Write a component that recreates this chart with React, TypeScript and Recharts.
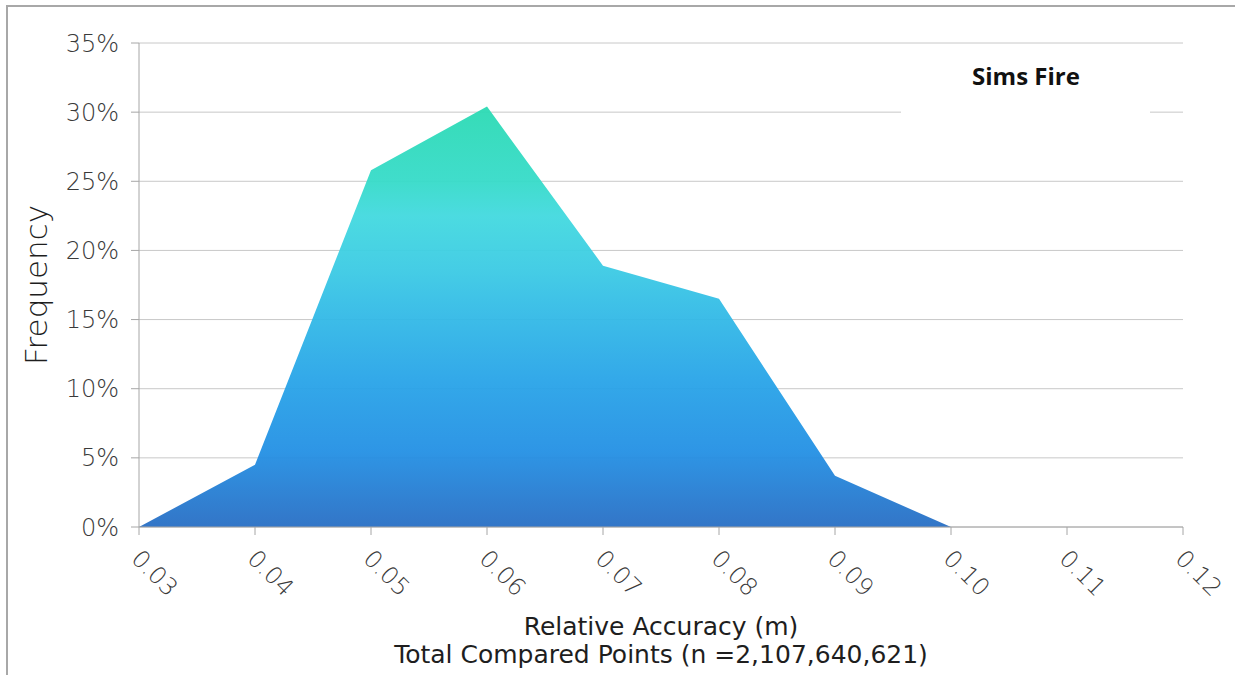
import React from "react";
import { AreaChart, Area, XAxis, YAxis, CartesianGrid } from "recharts";

const accuracy = [0.03, 0.04, 0.05, 0.06, 0.07, 0.08, 0.09, 0.1, 0.11, 0.12];
const frequency: (number | null)[] = [0, 4.5, 25.8, 30.4, 18.9, 16.5, 3.7, 0, null, null];
const xTicks = [0.03, 0.04, 0.05, 0.06, 0.07, 0.08, 0.09, 0.1, 0.11, 0.12];
const yTicks = [0, 5, 10, 15, 20, 25, 30, 35];
const seriesName = "Sims Fire";
const xTitle = "Relative Accuracy (m)";
const xSubtitle = "Total Compared Points (n =2,107,640,621)";
const yTitle = "Frequency";

const data = accuracy.map((x, i) => ({ x, f: frequency[i] }));

const FONT = "'DejaVu Sans', sans-serif";
const TEXT = "#3a3a3a";

const XTick = (props: any) => {
  const { x, y, payload } = props;
  const ox = x - 3;
  const oy = y + 17;
  return (
    <text
      x={ox}
      y={oy}
      transform={`rotate(45, ${ox}, ${oy})`}
      textAnchor="start"
      dy="0.35em"
      fontSize={24}
      fontWeight={300}
      fontFamily={FONT}
      fill={TEXT}
    >
      {Number(payload.value).toFixed(2)}
    </text>
  );
};

export default function App() {
  return (
    <div style={{ position: "absolute", left: 0, top: 0, width: 1235, height: 675, background: "#fff" }}>
      <div
        style={{
          position: "absolute",
          left: 6,
          top: 5,
          width: 1229,
          height: 670,
          borderTop: "2px solid #a8a8a8",
          borderLeft: "2px solid #a8a8a8",
          boxSizing: "border-box",
        }}
      />
      <AreaChart
        width={1235}
        height={675}
        data={data}
        margin={{ top: 43, right: 52, bottom: 0, left: 0 }}
        style={{ position: "absolute", left: 0, top: 0 }}
      >
        <defs>
          <linearGradient id="fillGrad" x1="0" y1="0" x2="0" y2="1">
            <stop offset="0" stopColor="#2bdab3" />
            <stop offset="0.18" stopColor="#36dbc9" />
            <stop offset="0.26" stopColor="#42d9df" />
            <stop offset="0.39" stopColor="#3bcae4" />
            <stop offset="0.46" stopColor="#35bfe6" />
            <stop offset="0.65" stopColor="#28a4e8" />
            <stop offset="0.82" stopColor="#2390e4" />
            <stop offset="1" stopColor="#286ec4" />
          </linearGradient>
        </defs>
        <CartesianGrid vertical={false} stroke="#c8c8c8" strokeWidth={1} />
        <XAxis
          dataKey="x"
          type="number"
          domain={[0.03, 0.12]}
          ticks={xTicks}
          height={148}
          stroke="#a6a6a6"
          tickSize={8}
          tick={<XTick />}
          interval={0}
        />
        <YAxis
          type="number"
          domain={[0, 35]}
          ticks={yTicks}
          width={139}
          stroke="#a6a6a6"
          tickSize={8}
          tickMargin={12}
          tickFormatter={(v: number) => `${v}%`}
          tick={{ fontSize: 24, fontWeight: 300, fontFamily: FONT, fill: TEXT }}
          label={{
            value: yTitle,
            angle: -90,
            position: "insideLeft",
            offset: 36,
            fontSize: 31,
            fontWeight: 300,
            fontFamily: FONT,
            fill: "#1e1e1e",
            style: { textAnchor: "middle" },
          }}
        />
        <Area
          type="linear"
          dataKey="f"
          stroke="none"
          fill="url(#fillGrad)"
          fillOpacity={0.95}
          isAnimationActive={false}
          dot={false}
          activeDot={false}
        />
      </AreaChart>
      <div
        style={{
          position: "absolute",
          left: 901,
          top: 50,
          width: 249,
          height: 100,
          background: "#fff",
        }}
      />
      <div
        style={{
          position: "absolute",
          left: 926,
          top: 61,
          width: 200,
          textAlign: "center",
          fontFamily: "'Open Sans', sans-serif",
          fontWeight: 700,
          fontSize: 24,
          color: "#111",
          lineHeight: "30px",
        }}
      >
        {seriesName}
      </div>
      <div
        style={{
          position: "absolute",
          left: 139,
          top: 613,
          width: 1044,
          textAlign: "center",
          fontFamily: FONT,
          fontWeight: 400,
          fontSize: 25,
          color: "#1e1e1e",
          lineHeight: "28px",
        }}
      >
        {xTitle}
        <br />
        {xSubtitle}
      </div>
    </div>
  );
}
